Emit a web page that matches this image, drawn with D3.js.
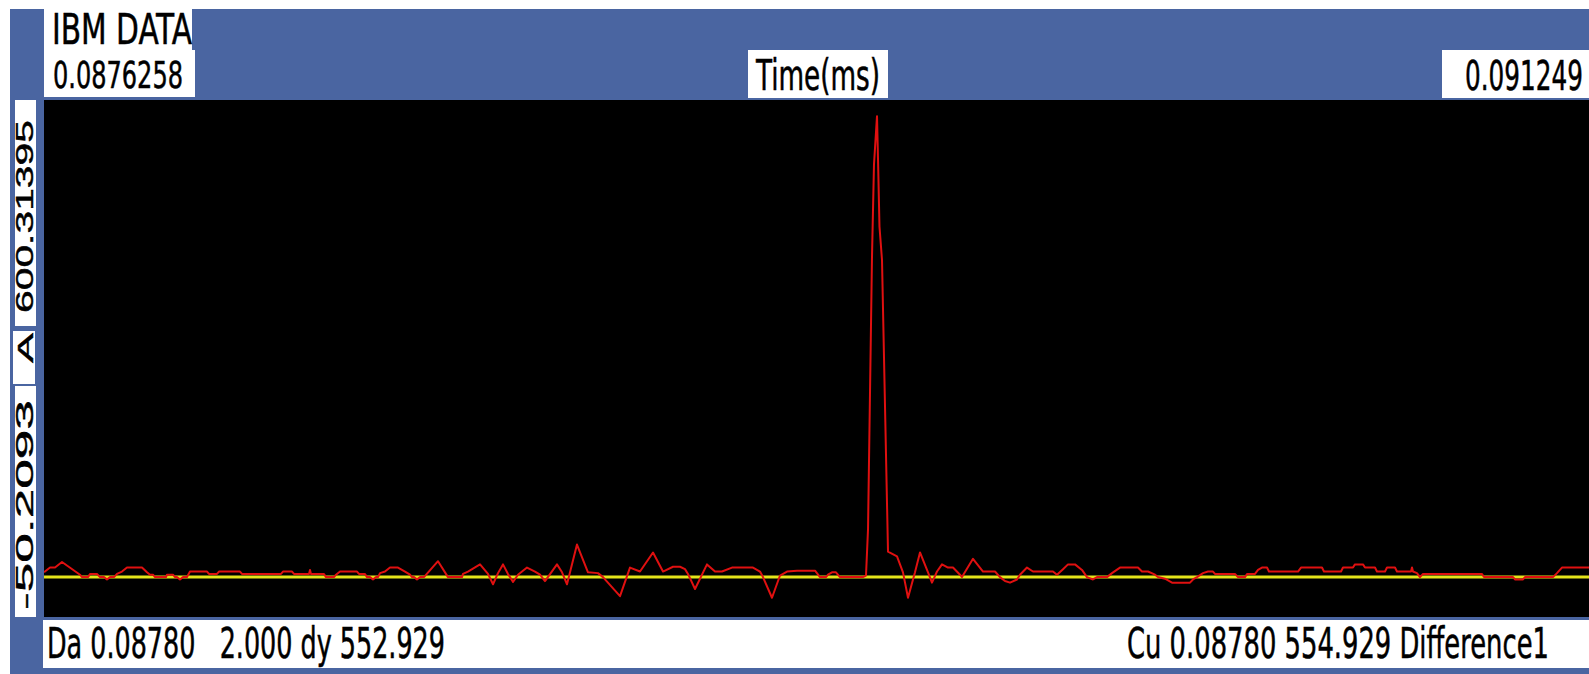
<!DOCTYPE html>
<html>
<head>
<meta charset="utf-8">
<script src="https://cdn.jsdelivr.net/npm/d3@7"></script>
<style>
  body { margin: 0; background: #fff; }
  text { font-family: "Liberation Sans Narrow", "DejaVu Sans Condensed", sans-serif; fill: #000; white-space: pre; }
</style>
</head>
<body>
<div id="visualization"></div>
<script>
let w = 1589;
let h = 674;

// axis limits shown on the scope screen
let timeRange = [0.0876258, 0.091249];
let ampRange = [-50.2093, 600.31395];

// trace vertices (time in ms, amplitude)
let timeMs = [
  0.0876258, 0.0876281, 0.0876399, 0.0876516, 0.0876680, 0.0877102, 0.0877149, 0.0877290, 0.0877337, 0.0877501,
  0.0877571, 0.0877665, 0.0877735, 0.0877806, 0.0877900, 0.0877970, 0.0878087, 0.0878204, 0.0878556, 0.0878673,
  0.0878744, 0.0878814, 0.0878861, 0.0879119, 0.0879142, 0.0879283, 0.0879330, 0.0879377, 0.0879447, 0.0879518,
  0.0879611, 0.0879682, 0.0880081, 0.0880127, 0.0880315, 0.0880362, 0.0880854, 0.0880901, 0.0881816, 0.0881863,
  0.0882074, 0.0882121, 0.0882473, 0.0882496, 0.0882519, 0.0882824, 0.0882871, 0.0883059, 0.0883106, 0.0883200,
  0.0883598, 0.0883645, 0.0883786, 0.0883833, 0.0883903, 0.0883973, 0.0884044, 0.0884091, 0.0884138, 0.0884255,
  0.0884372, 0.0884560, 0.0884724, 0.0884841, 0.0884888, 0.0884935, 0.0885005, 0.0885076, 0.0885169, 0.0885498,
  0.0885732, 0.0886061, 0.0886084, 0.0886201, 0.0886483, 0.0886670, 0.0886788, 0.0886905, 0.0887022, 0.0887139,
  0.0887257, 0.0887374, 0.0887585, 0.0887772, 0.0887890, 0.0888007, 0.0888288, 0.0888406, 0.0888523, 0.0888757,
  0.0889015, 0.0889250, 0.0889367, 0.0889766, 0.0890000, 0.0890235, 0.0890540, 0.0890774, 0.0891009, 0.0891173,
  0.0891290, 0.0891360, 0.0891525, 0.0891806, 0.0891994, 0.0892158, 0.0892392, 0.0892885, 0.0893049, 0.0893119,
  0.0893330, 0.0893518, 0.0893682, 0.0893917, 0.0894339, 0.0894456, 0.0894597, 0.0894644, 0.0894737, 0.0894831,
  0.0894925, 0.0895464, 0.0895535, 0.0895582, 0.0895675, 0.0895722, 0.0895793, 0.0895816, 0.0895851, 0.0895910,
  0.0896051, 0.0896262, 0.0896402, 0.0896520, 0.0896684, 0.0896801, 0.0896989, 0.0897082, 0.0897200, 0.0897317,
  0.0897458, 0.0897575, 0.0897739, 0.0897786, 0.0898044, 0.0898279, 0.0898560, 0.0898677, 0.0898794, 0.0898912,
  0.0899076, 0.0899146, 0.0899310, 0.0899451, 0.0899920, 0.0900014, 0.0900155, 0.0900272, 0.0900436, 0.0900600,
  0.0900717, 0.0900858, 0.0900952, 0.0901186, 0.0901304, 0.0901491, 0.0901913, 0.0902007, 0.0902148, 0.0902313,
  0.0902382, 0.0902547, 0.0902711, 0.0903133, 0.0903203, 0.0903297, 0.0903438, 0.0903555, 0.0903672, 0.0903719,
  0.0904188, 0.0904259, 0.0904423, 0.0904470, 0.0904657, 0.0904728, 0.0904821, 0.0904939, 0.0904985, 0.0905666,
  0.0905736, 0.0906228, 0.0906275, 0.0906674, 0.0906721, 0.0906955, 0.0907002, 0.0907190, 0.0907237, 0.0907471,
  0.0907518, 0.0907706, 0.0907753, 0.0907940, 0.0907987, 0.0908316, 0.0908339, 0.0908362, 0.0908456, 0.0908526,
  0.0908597, 0.0909981, 0.0910027, 0.0910708, 0.0910754, 0.0910942, 0.0910989, 0.0911646, 0.0911739, 0.0911856,
  0.0912490
];
let amplitude = [
  6, 7, 12, 12, 19, 3, 0, 0, 4, 4,
  0, 0, -3, 0, 0, 4, 7, 12, 12, 6,
  3, 3, 0, 0, 3, 3, 0, 0, -3, 0,
  0, 7, 7, 4, 4, 7, 7, 4, 4, 7,
  7, 4, 4, 9, 4, 4, 0, 0, 3, 7,
  7, 4, 4, 0, 0, -3, 0, 0, 5, 7,
  12, 12, 7, 3, 0, 0, -3, 0, 0, 20,
  0, 0, 4, 7, 16, 4, -9, 5, 16, 4,
  -6, 3, 12, 7, 3, -5, 16, 6, -9, 41,
  6, 5, 0, -24, 12, 7, 31, 7, 13, 13,
  10, 4, -15, 16, 7, 7, 12, 12, 7, 0,
  -26, 2, 7, 8, 8, 0, 0, 3, 6, 6,
  0, 0, 2, 60, 402, 519, 580, 527, 441, 399,
  32, 26, 6, -26, 6, 31, 6, -7, 7, 16,
  12, 12, 3, 0, 23, 7, 7, 0, -5, -7,
  -3, 3, 12, 7, 7, 3, 10, 16, 16, 9,
  0, -3, 0, 0, 5, 12, 12, 7, 7, 3,
  0, -2, -7, -7, -3, 0, 5, 7, 7, 4,
  4, 0, 0, 4, 4, 9, 12, 12, 7, 7,
  12, 12, 7, 7, 12, 12, 16, 16, 12, 12,
  7, 7, 12, 12, 7, 7, 12, 7, 5, 0,
  4, 4, 0, 0, -3, -3, 0, 0, 5, 12,
  12
];

// screen labels
let titleLabel = "IBM DATA";
let timeLabel = "Time(ms)";
let ampLabel = "A";
let cursorLeft = "Da 0.08780   2.000 dy 552.929";
let cursorRight = "Cu 0.08780 554.929 Difference1";

let blue = "#4a65a1";

let viz = d3.select("#visualization")
  .append("svg")
  .attr("width", w)
  .attr("height", h)
;

// blue frame
viz.append("rect").attr("x", 10).attr("y", 9).attr("width", w - 10).attr("height", h - 9).attr("fill", blue);

// plot area
let plot = {left: 44, right: 1589, top: 100, bottom: 617};
viz.append("rect")
  .attr("x", plot.left).attr("y", plot.top)
  .attr("width", plot.right - plot.left).attr("height", plot.bottom - plot.top)
  .attr("fill", "#000");

let xScale = d3.scaleLinear().domain(timeRange).range([plot.left, plot.right]);
let yScale = d3.scaleLinear().domain(ampRange).range([plot.bottom, plot.top]);

viz.append("clipPath").attr("id", "clip")
  .append("rect")
  .attr("x", plot.left).attr("y", plot.top)
  .attr("width", plot.right - plot.left).attr("height", plot.bottom - plot.top);

// zero line
viz.append("line")
  .attr("x1", plot.left).attr("x2", plot.right)
  .attr("y1", yScale(0)).attr("y2", yScale(0))
  .attr("stroke", "#e4e41a")
  .attr("stroke-width", 3);

// trace
let traceData = timeMs.map((t, i) => ({t: t, v: amplitude[i]}));
let line = d3.line().x(d => xScale(d.t)).y(d => yScale(d.v));
viz.append("path")
  .datum(traceData)
  .attr("clip-path", "url(#clip)")
  .attr("d", line)
  .attr("fill", "none")
  .attr("stroke", "#e01010")
  .attr("stroke-width", 2)
  .attr("stroke-linejoin", "round");

// white label boxes
function box(x, y, bw, bh) {
  viz.append("rect").attr("x", x).attr("y", y).attr("width", bw).attr("height", bh).attr("fill", "#fff");
}
// squeeze text horizontally so it spans len pixels
function label(txt, x, y, len, size) {
  let t = viz.append("text")
    .attr("x", 0).attr("y", 0)
    .attr("font-size", size)
    .style("stroke", "#000")
    .style("stroke-width", 0.5)
    .text(txt);
  let natural = t.node().getComputedTextLength();
  t.attr("transform", `translate(${x},${y}) scale(${len / natural},1)`);
  return t;
}

box(44, 9, 148, 41);
box(44, 50, 151, 47);
label(titleLabel, 52, 44, 140, 42);
label(d3.format(".6")(timeRange[0]), 53, 88, 130, 38);

box(748, 50, 140, 48);
label(timeLabel, 756, 90, 124, 42);

box(1442, 50, w - 1442, 48);
label(String(timeRange[1]), 1465, 90, 118, 40);

// bottom cursor readout
viz.append("rect").attr("x", 43).attr("y", 620).attr("width", w - 43).attr("height", 48).attr("fill", "#fff");
label(cursorLeft, 47, 658, 398, 42);
label(cursorRight, 1127, 658, 422, 42);

// vertical amplitude labels
box(15, 100, 21, 226);
box(13, 331, 22, 53);
box(15, 386, 21, 231);
function vlabel(txt, yStart, len) {
  let t = viz.append("text")
    .attr("x", 0).attr("y", 0)
    .attr("font-size", 23)
    .style("font-family", "'Liberation Sans', Arial, sans-serif")
    .style("stroke", "#000")
    .style("stroke-width", 0.4)
    .text(txt);
  let natural = t.node().getComputedTextLength();
  t.attr("transform", `translate(33,${yStart}) rotate(-90) scale(${len / natural},1)`);
}
vlabel(String(ampRange[1]), 313, 193);
vlabel(ampLabel, 363, 30);
vlabel(String(ampRange[0]), 610, 210);
</script>
</body>
</html>
